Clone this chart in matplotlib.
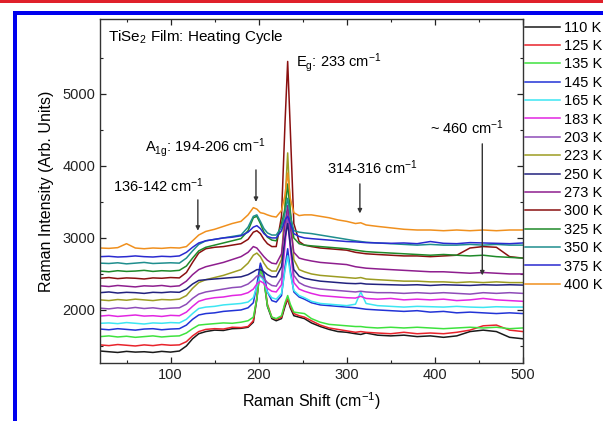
import numpy as np
import matplotlib
matplotlib.use('Agg')
import matplotlib.pyplot as plt
from matplotlib.patches import Rectangle

plt.rcParams['font.family'] = ['Liberation Sans', 'DejaVu Sans']
plt.rcParams['mathtext.fontset'] = 'custom'
plt.rcParams['mathtext.rm'] = 'Liberation Sans'
plt.rcParams['mathtext.it'] = 'Liberation Sans:italic'

# Raman shift grid (cm^-1)
shift = [20, 30, 40, 50, 60, 70, 80, 90, 100, 110,
         118, 125, 132, 140, 150, 160, 170, 180,
         188, 194, 198, 202, 206, 210, 215, 220,
         226, 230, 233, 236, 240, 246, 252, 260,
         270, 280, 290, 300, 310, 316, 322, 335,
         350, 365, 380, 395, 410, 425, 440, 455,
         470, 485, 500]

temps = ['110 K', '125 K', '135 K', '145 K', '165 K', '183 K', '203 K', '223 K',
         '250 K', '273 K', '300 K', '325 K', '350 K', '375 K', '400 K']

colors = ['#1a1a1a', '#e8232b', '#3ee23e', '#2233d6', '#3ce6f2', '#e226e2', '#8e4cb8',
          '#9c9c22', '#22227e', '#8e1e8e', '#8a1010', '#1f8a2a', '#1f8e8e', '#2a2ad0', '#f0901e']

i110 = [1430, 1420, 1410, 1425, 1415, 1420, 1410, 1425, 1415, 1430,
        1500, 1600, 1670, 1700, 1720, 1715, 1740, 1745,
        1760, 1830, 2150, 2600, 2420, 2050, 1880, 1850,
        1880, 2050, 2150, 2030, 1920, 1900, 1880, 1820,
        1770, 1730, 1700, 1690, 1670, 1660, 1680, 1650,
        1640, 1650, 1630, 1640, 1620, 1640, 1700, 1720,
        1700, 1620, 1600]
i125 = [1515, 1505, 1520, 1510, 1500, 1515, 1505, 1520, 1510, 1515,
        1560, 1640, 1700, 1730, 1740, 1735, 1760, 1755,
        1770, 1850, 2180, 2620, 2450, 2080, 1900, 1870,
        1900, 2080, 2150, 2050, 1950, 1920, 1900, 1850,
        1790, 1750, 1730, 1710, 1690, 1700, 1690, 1680,
        1670, 1690, 1670, 1680, 1670, 1690, 1720, 1780,
        1790, 1720, 1700]
i135 = [1630, 1640, 1625, 1635, 1620, 1630, 1640, 1625, 1635, 1640,
        1680, 1740, 1790, 1800, 1810, 1820, 1815, 1830,
        1850, 1900, 2150, 2580, 2420, 2060, 1900, 1880,
        1920, 2100, 2200, 2080, 1970, 1960, 1950, 1880,
        1830, 1800, 1790, 1780, 1770, 1770, 1760, 1750,
        1760, 1750, 1760, 1750, 1740, 1750, 1760, 1750,
        1760, 1740, 1750]
i145 = [1735, 1725, 1740, 1730, 1720, 1735, 1740, 1725, 1735, 1740,
        1790, 1870, 1930, 1950, 1960, 1980, 1990, 2000,
        2030, 2100, 2350, 2650, 2500, 2250, 2130, 2110,
        2200, 2600, 2850, 2550, 2250, 2180, 2150, 2100,
        2070, 2060, 2050, 2040, 2030, 2020, 2010, 2000,
        1990, 1980, 1990, 1970, 1980, 1960, 1970, 1960,
        1950, 1960, 1950]
i165 = [1815, 1820, 1810, 1825, 1815, 1805, 1820, 1815, 1825, 1820,
        1870, 1950, 2020, 2040, 2050, 2070, 2080, 2090,
        2110, 2170, 2330, 2480, 2400, 2250, 2170, 2150,
        2230, 2550, 2750, 2500, 2270, 2200, 2170, 2120,
        2090, 2080, 2070, 2060, 2080, 2250, 2090, 2060,
        2050, 2040, 2050, 2045, 2040, 2050, 2040, 2035,
        2045, 2040, 2040]
i183 = [1915, 1925, 1910, 1920, 1930, 1915, 1920, 1910, 1925, 1920,
        1970, 2050, 2120, 2150, 2170, 2180, 2200, 2210,
        2240, 2290, 2360, 2400, 2370, 2300, 2260, 2250,
        2350, 2900, 3300, 2850, 2380, 2290, 2260, 2230,
        2200, 2190, 2180, 2170, 2165, 2190, 2160, 2150,
        2160, 2140, 2150, 2140, 2150, 2130, 2140, 2160,
        2140, 2130, 2120]
i203 = [2025, 2015, 2030, 2020, 2035, 2020, 2030, 2015, 2025, 2030,
        2080, 2160, 2220, 2250, 2270, 2290, 2310, 2320,
        2360, 2420, 2470, 2480, 2440, 2380, 2340, 2330,
        2450, 3000, 3350, 2950, 2480, 2380, 2340, 2310,
        2290, 2280, 2270, 2260, 2250, 2260, 2250, 2240,
        2240, 2230, 2240, 2230, 2240, 2230, 2220, 2240,
        2230, 2240, 2230]
i223 = [2140, 2130, 2145, 2135, 2150, 2140, 2130, 2145, 2140, 2150,
        2200, 2300, 2380, 2420, 2450, 2480, 2520, 2560,
        2650, 2760, 2790, 2740, 2650, 2580, 2540, 2540,
        2700, 3500, 4180, 3400, 2700, 2560, 2530, 2500,
        2480, 2470, 2460, 2450, 2440, 2450, 2430, 2420,
        2410, 2400, 2400, 2390, 2390, 2380, 2390, 2380,
        2390, 2380, 2380]
i250 = [2240, 2250, 2235, 2245, 2240, 2230, 2245, 2240, 2250, 2245,
        2290, 2360, 2410, 2420, 2430, 2440, 2450, 2460,
        2490, 2530, 2560, 2560, 2530, 2490, 2460, 2460,
        2600, 3000, 3200, 2900, 2560, 2470, 2440, 2420,
        2400, 2390, 2380, 2370, 2365, 2370, 2360, 2355,
        2350, 2345, 2350, 2340, 2350, 2345, 2340, 2350,
        2345, 2350, 2345]
i273 = [2335, 2325, 2340, 2330, 2320, 2335, 2330, 2340, 2325, 2335,
        2400, 2490, 2560, 2600, 2630, 2660, 2700, 2740,
        2800, 2880, 2860, 2800, 2740, 2690, 2650, 2640,
        2780, 3200, 3450, 3150, 2800, 2720, 2700, 2680,
        2660, 2650, 2640, 2630, 2600, 2590, 2580, 2570,
        2560, 2550, 2540, 2530, 2530, 2520, 2510, 2520,
        2510, 2500, 2500]
i300 = [2440, 2450, 2435, 2445, 2440, 2430, 2445, 2440, 2450, 2445,
        2520, 2660, 2790, 2850, 2870, 2880, 2900, 2920,
        2980, 3080, 3100, 3060, 2980, 2920, 2880, 2880,
        3300, 4600, 5450, 4500, 3200, 2950, 2900, 2880,
        2860, 2850, 2840, 2830, 2800, 2790, 2780, 2770,
        2760, 2750, 2750, 2740, 2750, 2760, 2860, 2880,
        2870, 2740, 2720]
i325 = [2540, 2530, 2545, 2535, 2540, 2550, 2535, 2545, 2540, 2550,
        2610, 2720, 2820, 2870, 2900, 2930, 2960, 2990,
        3100, 3280, 3300, 3200, 3080, 3010, 2970, 2960,
        3200, 3400, 3750, 3350, 3000, 2920, 2900, 2890,
        2880, 2870, 2860, 2850, 2830, 2820, 2810, 2800,
        2790, 2780, 2770, 2760, 2770, 2760, 2750, 2760,
        2740, 2730, 2720]
i350 = [2650, 2645, 2655, 2640, 2650, 2660, 2645, 2650, 2655, 2650,
        2720, 2820, 2910, 2960, 2980, 3000, 3020, 3040,
        3150, 3300, 3320, 3230, 3130, 3070, 3040, 3040,
        3150, 3350, 3550, 3300, 3100, 3080, 3070, 3060,
        3040, 3020, 3000, 2980, 2960, 2950, 2940, 2930,
        2920, 2910, 2900, 2910, 2900, 2900, 2910, 2900,
        2910, 2900, 2900]
i375 = [2740, 2745, 2735, 2740, 2750, 2740, 2735, 2745, 2740, 2750,
        2800, 2870, 2930, 2960, 2980, 3000, 3010, 3030,
        3080, 3150, 3170, 3130, 3060, 3020, 3000, 3000,
        3100, 3250, 3300, 3200, 3060, 3020, 3000, 2990,
        2980, 2970, 2960, 2950, 2945, 2940, 2935, 2930,
        2925, 2930, 2920, 2950, 2925, 2920, 2935, 2930,
        2925, 2920, 2930]
i400 = [2860, 2855, 2865, 2920, 2860, 2850, 2860, 2855, 2865, 2860,
        2880, 2960, 3040, 3090, 3120, 3160, 3200, 3230,
        3320, 3420, 3400, 3350, 3340, 3320, 3300, 3290,
        3380, 3600, 3900, 3550, 3350, 3310, 3320, 3320,
        3300, 3280, 3250, 3230, 3200, 3210, 3180, 3160,
        3140, 3120, 3110, 3110, 3100, 3110, 3100, 3110,
        3100, 3110, 3110]

spectra = [i110, i125, i135, i145, i165, i183, i203, i223,
           i250, i273, i300, i325, i350, i375, i400]


fig = plt.figure(figsize=(6.03, 4.21), dpi=100)
ax = fig.add_axes([0.166, 0.138, 0.701, 0.817])

for lab, col, spec in zip(temps, colors, spectra):
    ax.plot(shift, spec, color=col, lw=1.1, label=lab)

ax.set_xlim(20, 500)
ax.set_ylim(1265, 6040)
ax.set_xticks([100, 200, 300, 400, 500])
ax.set_xticks(np.arange(50, 501, 100), minor=True)
ax.set_yticks([2000, 3000, 4000, 5000])
ax.set_yticks([1500, 2500, 3500, 4500, 5500], minor=True)
ax.tick_params(which='both', direction='in', top=True, right=True, labelsize=10.5, colors='#222222')
ax.tick_params(which='major', length=4, width=0.9)
ax.tick_params(which='minor', length=2.5, width=0.8)
for sp in ax.spines.values():
    sp.set_linewidth(1.0)
    sp.set_color('#333333')

ax.set_xlabel('Raman Shift (cm$^{-1}$)', fontsize=11.5, labelpad=6)
ax.set_ylabel('Raman Intensity (Arb. Units)', fontsize=11.5, labelpad=6)

# annotations
ax.text(29, 5790, 'TiSe$_2$ Film: Heating Cycle', fontsize=11, va='center')
ax.text(243, 5430, r'E$_\mathrm{g}$: 233 cm$^{-1}$', fontsize=10.5, va='center')
ax.text(71, 4250, r'A$_\mathrm{1g}$: 194-206 cm$^{-1}$', fontsize=10.5, va='center')
ax.text(35, 3720, '136-142 cm$^{-1}$', fontsize=10.5, va='center')
ax.text(278, 3972, '314-316 cm$^{-1}$', fontsize=10.5, va='center')
ax.text(395, 4528, '~ 460 cm$^{-1}$', fontsize=10.5, va='center')

arrows = [(197, 3944, 3500), (131, 3528, 3100), (315, 3750, 3340), (454, 4306, 2480)]
for ax_x, y0, y1 in arrows:
    ax.annotate('', xy=(ax_x, y1), xytext=(ax_x, y0),
                arrowprops=dict(arrowstyle='-|>', color='#333333', lw=1.0,
                                mutation_scale=6, shrinkA=0, shrinkB=0))

ax.legend(loc='upper left', bbox_to_anchor=(1.005, 0.995), frameon=False,
          fontsize=10.5, handlelength=2.4, handletextpad=0.3, labelspacing=0.3,
          borderaxespad=0, borderpad=0)

# page decoration: red rule and blue frame
fig.add_artist(Rectangle((0, 1 - 2.5 / 421), 1, 2.5 / 421, transform=fig.transFigure,
                         color='#e0202a', lw=0))
fig.add_artist(Rectangle((13 / 603, 1 - 15 / 421), 1 - 13 / 603, 4 / 421,
                         transform=fig.transFigure, color='#0000ee', lw=0))
fig.add_artist(Rectangle((13 / 603, 0), 4 / 603, 1 - 11 / 421,
                         transform=fig.transFigure, color='#0000ee', lw=0))

fig.savefig('out.png', dpi=100)
